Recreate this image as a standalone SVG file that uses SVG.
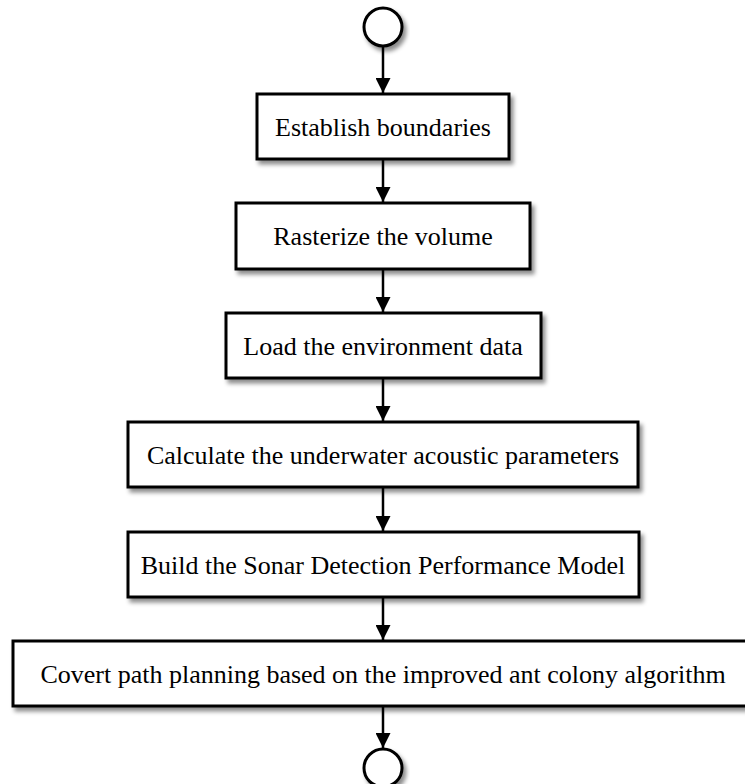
<svg xmlns="http://www.w3.org/2000/svg" width="745" height="784" viewBox="0 0 745 784">
<style>
.box{fill:#fff;stroke:#000;stroke-width:3;filter:url(#sh)}
.term{fill:#fff;stroke:#000;stroke-width:3;filter:url(#sh)}
.lbl{font-family:"Liberation Serif","Times New Roman",serif;font-size:26px;fill:#000;text-anchor:middle}
.con{stroke:#000;stroke-width:2.5;fill:none;marker-end:url(#ah)}
</style>
<defs>
<filter id="sh" x="-10%" y="-20%" width="130%" height="160%">
<feDropShadow dx="3" dy="4" stdDeviation="2" flood-color="#000" flood-opacity="0.45"/>
</filter>
<marker id="ah" viewBox="0 0 14 14" refX="14" refY="7" markerWidth="15" markerHeight="15" markerUnits="userSpaceOnUse" orient="auto">
<path d="M0,0 L14,7 L0,14 Z" fill="#000"/>
</marker>
</defs>
<rect width="745" height="784" fill="#fff"/>
<g id="connectors">
<line class="con" x1="383" y1="47" x2="383" y2="93"/>
<line class="con" x1="383" y1="159" x2="383" y2="202"/>
<line class="con" x1="383" y1="269" x2="383" y2="312"/>
<line class="con" x1="383" y1="378" x2="383" y2="421"/>
<line class="con" x1="383" y1="487" x2="383" y2="531"/>
<line class="con" x1="383" y1="597" x2="383" y2="640"/>
<line class="con" x1="383" y1="706" x2="383" y2="748"/>
</g>
<g id="start"><circle class="term" cx="383" cy="27" r="19"/></g>
<g id="n1"><rect class="box" x="257" y="94" width="252" height="65"/><text class="lbl" x="383" y="136">Establish boundaries</text></g>
<g id="n2"><rect class="box" x="236" y="203" width="294" height="66"/><text class="lbl" x="383" y="245">Rasterize the volume</text></g>
<g id="n3"><rect class="box" x="226" y="313" width="315" height="65"/><text class="lbl" x="383" y="355">Load the environment data</text></g>
<g id="n4"><rect class="box" x="128" y="422" width="510" height="65"/><text class="lbl" x="383" y="464">Calculate the underwater acoustic parameters</text></g>
<g id="n5"><rect class="box" x="128" y="532" width="511" height="65"/><text class="lbl" x="383" y="574">Build the Sonar Detection Performance Model</text></g>
<g id="n6"><rect class="box" x="13" y="641" width="740" height="65"/><text class="lbl" x="383" y="683">Covert path planning based on the improved ant colony algorithm</text></g>
<g id="end"><circle class="term" cx="383" cy="768" r="19"/></g>
</svg>
